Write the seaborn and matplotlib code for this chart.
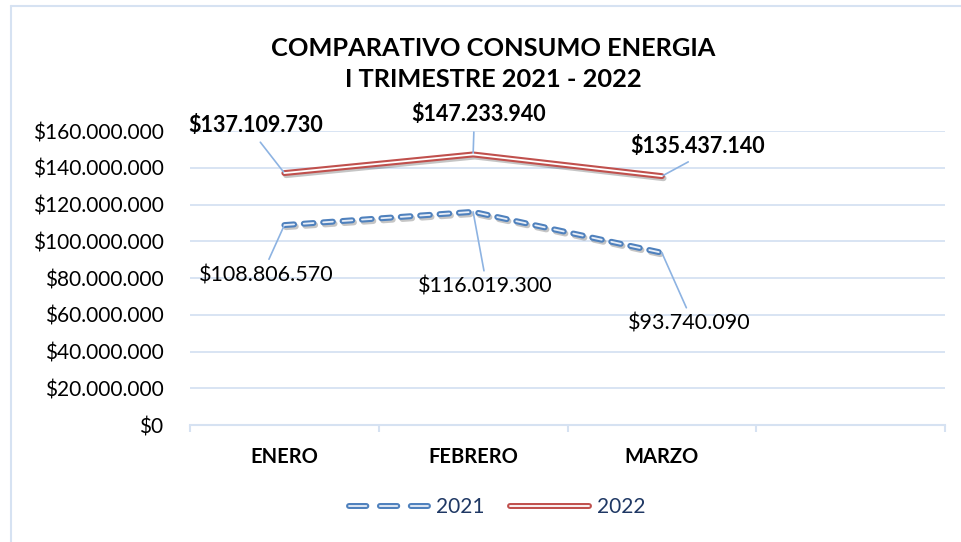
import pandas as pd
import matplotlib.pyplot as plt
import matplotlib.patheffects as pe
from matplotlib.lines import Line2D
from matplotlib.ticker import FuncFormatter, FixedLocator
import seaborn as sns

meses = ['ENERO', 'FEBRERO', 'MARZO', ' ']
valores_2021 = [108806570, 116019300, 93740090]
valores_2022 = [137109730, 147233940, 135437140]
titulo = 'COMPARATIVO CONSUMO ENERGIA\nI TRIMESTRE 2021 - 2022'

AZUL = '#4f81bd'
ROJO = '#c0504d'
GRID = '#d6e2f2'
GUIA = '#8db3e2'


def pesos(v):
    return '$' + f'{int(round(v)):,}'.replace(',', '.')


def generate_plot():
    sns.set_theme(style='white')
    plt.rcParams['font.family'] = ['Lato', 'DejaVu Sans']
    plt.rcParams['lines.scale_dashes'] = False

    df = pd.DataFrame({
        'mes': meses[:3] * 2,
        'valor': valores_2021 + valores_2022,
        'anio': ['2021'] * 3 + ['2022'] * 3,
    })
    d21 = df[df['anio'] == '2021']
    d22 = df[df['anio'] == '2022']

    fig = plt.figure(figsize=(9.61, 5.42), dpi=100)
    ax = fig.add_axes([190 / 961, 1 - 425 / 542, 755 / 961, 294 / 542])

    # fix the category order, including the empty fourth slot
    ax.plot(meses, [0] * 4, alpha=0)

    sombra = [pe.SimpleLineShadow(offset=(1.2, -1.5), alpha=0.25), pe.Normal()]
    dash = (0, (7, 7))

    sns.lineplot(data=d22, x='mes', y='valor', ax=ax, color=ROJO, lw=4.3,
                 solid_capstyle='round', solid_joinstyle='round',
                 path_effects=sombra, zorder=3)
    sns.lineplot(data=d22, x='mes', y='valor', ax=ax, color='white', lw=1.3,
                 solid_capstyle='round', zorder=4)
    sns.lineplot(data=d21, x='mes', y='valor', ax=ax, color=AZUL, lw=4.3,
                 linestyle=dash, dash_capstyle='round',
                 path_effects=sombra, zorder=3)
    sns.lineplot(data=d21, x='mes', y='valor', ax=ax, color='#e8eef7', lw=1.3,
                 linestyle=dash, dash_capstyle='round', zorder=4)

    ax.set_xlim(-0.5, 3.5)
    ax.set_ylim(0, 160000000)
    ax.set_yticks(range(0, 160000001, 20000000))
    ax.yaxis.set_major_formatter(FuncFormatter(lambda v, p: pesos(v)))
    ax.grid(axis='y', color=GRID, lw=1.3)
    ax.set_axisbelow(True)

    for s in ['top', 'right', 'left']:
        ax.spines[s].set_visible(False)
    ax.spines['bottom'].set_color(GRID)
    ax.spines['bottom'].set_linewidth(1.5)

    ax.xaxis.set_minor_locator(FixedLocator([-0.5, 0.5, 1.5, 2.5, 3.5]))
    ax.tick_params(axis='x', which='minor', length=5, width=1.5, color=GRID,
                   bottom=True)
    ax.tick_params(axis='x', which='major', length=0, pad=16)
    ax.tick_params(axis='y', length=0, pad=19, labelsize=15, labelcolor='black')
    for t in ax.get_xticklabels():
        t.set_fontweight('bold')
        t.set_fontsize(14.5)
        t.set_color('black')
    ax.set_xlabel('')
    ax.set_ylabel('')
    if ax.get_legend():
        ax.get_legend().remove()

    # data labels with leader lines (offsets in points)
    lab22 = [(-21, 34.5, (0.5, 0.0)), (3.6, 29, (0.47, 0.0)), (26, 21.6, (0.5, 0.0))]
    lab21 = [(-13, -36, (0.5, 1.0)), (8.6, -54, (0.5, 1.0)), (19.5, -51, (0.5, 1.0))]
    for i, (v, (dx, dy, rp)) in enumerate(zip(valores_2022, lab22)):
        ax.annotate(pesos(v), (i, v), xytext=(dx, dy), textcoords='offset points',
                    ha='center', va='center', fontsize=15.5, fontweight='bold',
                    color='black',
                    arrowprops=dict(arrowstyle='-', color=GUIA, lw=1.2,
                                    shrinkA=3, shrinkB=0, relpos=rp))
    for i, (v, (dx, dy, rp)) in enumerate(zip(valores_2021, lab21)):
        ax.annotate(pesos(v), (i, v), xytext=(dx, dy), textcoords='offset points',
                    ha='center', va='center', fontsize=15.5, color='black',
                    arrowprops=dict(arrowstyle='-', color=GUIA, lw=1.2,
                                    shrinkA=2, shrinkB=0, relpos=rp))

    fig.text(493 / 961, 1 - 64 / 542, titulo, ha='center', va='center',
             fontsize=18.3, fontweight='bold', linespacing=1.45, color='black')

    # legend: double lines, three dashes in the 2021 handle
    dash_leg = (0, (12.5, 9.75))
    h21 = (Line2D([], [], color=AZUL, lw=4.3, linestyle=dash_leg,
                  dash_capstyle='round'),
           Line2D([], [], color='#e8eef7', lw=1.3, linestyle=dash_leg,
                  dash_capstyle='round'))
    h22 = (Line2D([], [], color=ROJO, lw=4.3, solid_capstyle='round'),
           Line2D([], [], color='white', lw=1.3, solid_capstyle='round'))
    leg = fig.legend([h21, h22], ['2021', '2022'], loc='center',
                     bbox_to_anchor=(497 / 961, 1 - 507 / 542), ncol=2,
                     frameon=False, fontsize=15, handlelength=3.8,
                     columnspacing=1.2, handletextpad=0.4)
    for t in leg.get_texts():
        t.set_color('#1f3864')

    # outer chart frame (left and top edges)
    fig.add_artist(Line2D([11 / 961, 11 / 961], [0, 1 - 6 / 542], color=GRID,
                          lw=1.5, transform=fig.transFigure))
    fig.add_artist(Line2D([11 / 961, 1], [1 - 6 / 542, 1 - 6 / 542], color=GRID,
                          lw=1.5, transform=fig.transFigure))

    fig.savefig('out.png', dpi=100)
    plt.close(fig)


if __name__ == '__main__':
    generate_plot()
